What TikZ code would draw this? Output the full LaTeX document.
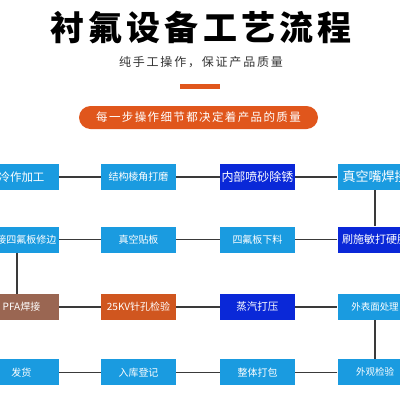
\documentclass[tikz,border=0pt]{standalone}
\usepackage{fontspec}
\setmainfont{Noto Sans CJK SC}
\definecolor{boxblue}{HTML}{1A9BE0}
\definecolor{deepblue}{HTML}{0A28D8}
\definecolor{pfabrown}{HTML}{9A6652}
\definecolor{testorange}{HTML}{D0561F}
\definecolor{pillorange}{HTML}{E0561C}
\definecolor{linegray}{HTML}{3A3A3A}
\definecolor{subgray}{HTML}{333333}
\begin{document}
\begin{tikzpicture}[x=1pt,y=-1pt,
  stepbox/.style={minimum width=75pt,minimum height=26pt,inner sep=0pt,text=white},
  link/.style={draw=linegray,line width=1.3pt}]
\useasboundingbox (0,0) rectangle (400,400);
\clip (0,0) rectangle (400,400);
% heading
\node[font=\fontsize{34}{36}\selectfont\bfseries\addfontfeature{LetterSpace=12}] (title) at (201,28) {衬氟设备工艺流程};
\node[text=subgray,font=\fontsize{12}{14}\selectfont\addfontfeature{LetterSpace=15}] (sub) at (201,62) {纯手工操作，保证产品质量};
\fill[pillorange] (180,84.3) rectangle (220,89.3);
\node[fill=pillorange,text=white,rounded corners=11.5pt,minimum width=239pt,minimum height=23pt,inner sep=0pt,
  font=\fontsize{11.5}{13}\selectfont\addfontfeature{LetterSpace=12}] (motto) at (198.5,117.5) {每一步操作细节都决定着产品的质量};
% process steps
\foreach \n/\x/\y/\c/\s/\t in {
  r1c1/21.5/177/boxblue/11.5/冷作加工, r1c2/138.5/177/boxblue/10/结构棱角打磨,
  r1c3/257.5/177/deepblue/12/内部喷砂除锈, r1c4/375/177/boxblue/13/真空嘴焊接,
  r2c1/21.5/239.5/boxblue/10/焊接四氟板修边, r2c2/138.5/239.5/boxblue/10/真空贴板,
  r2c3/257.5/239.5/boxblue/10/四氟板下料, r2c4/375/239.5/deepblue/11/刷施敏打硬胶,
  r3c1/21.5/307/pfabrown/10/PFA焊接, r3c2/138.5/307/testorange/10/25KV针孔检验,
  r3c3/257.5/307/deepblue/10.5/蒸汽打压, r3c4/375/307/boxblue/9.5/外表面处理,
  r4c1/21.5/372.3/boxblue/10/发货, r4c2/138.5/372.3/boxblue/10/入库登记,
  r4c3/257.5/372.3/boxblue/10/整体打包, r4c4/375/372.3/boxblue/9.5/外观检验}
  \node[stepbox,fill=\c,font=\fontsize{\s}{\s}\selectfont] (\n) at (\x,\y) {\t};
% connectors
\foreach \a/\b in {r1c1/r1c2,r1c2/r1c3,r1c3/r1c4,r1c4/r2c4,r2c4/r2c3,r2c3/r2c2,r2c2/r2c1,
  r3c1/r3c2,r3c2/r3c3,r3c3/r3c4,r3c4/r4c4,r4c4/r4c3,r4c3/r4c2,r4c2/r4c1}
  \draw[link] (\a) -- (\b);
\draw[link] ([xshift=-4.5pt]r2c1.south) -- ([xshift=-4.5pt]r3c1.north);
\end{tikzpicture}
\end{document}
